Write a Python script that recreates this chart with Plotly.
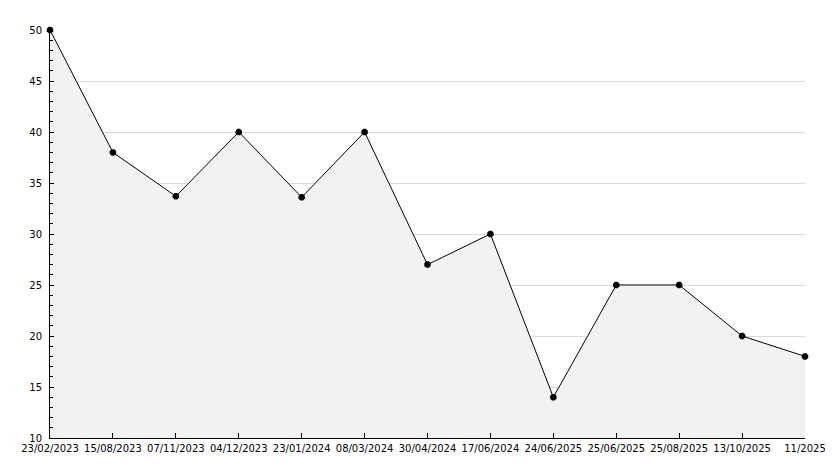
import plotly.graph_objects as go

dates = ["23/02/2023", "15/08/2023", "07/11/2023", "04/12/2023", "23/01/2024",
         "08/03/2024", "30/04/2024", "17/06/2024", "24/06/2025", "25/06/2025",
         "25/08/2025", "13/10/2025", "11/2025"]
values = [50, 38, 33.7, 40, 33.6, 40, 27, 30, 14, 25, 25, 20, 18]
y_ticks = [10, 15, 20, 25, 30, 35, 40, 45, 50]

idx = list(range(len(dates)))

fig = go.Figure()
fig.add_trace(go.Scatter(
    x=idx, y=values, mode="lines+markers",
    fill="tozeroy", fillcolor="#f2f2f2",
    line=dict(color="black", width=1),
    marker=dict(symbol="octagon", size=7, color="black"),
    cliponaxis=False, hoverinfo="skip"))

fig.update_layout(
    width=834, height=468,
    margin=dict(l=50, r=29, t=30, b=30, autoexpand=False),
    paper_bgcolor="white", plot_bgcolor="white",
    showlegend=False,
    font=dict(family="DejaVu Sans", size=10, color="black"),
    xaxis=dict(range=[0, len(dates) - 1], tickvals=idx, ticktext=dates,
               showgrid=False, showline=True, linecolor="black", linewidth=1,
               ticks="inside", ticklen=5, tickcolor="black", zeroline=False,
               tickangle=0, automargin=False, ticklabelstandoff=1),
    yaxis=dict(range=[10, 50], tickvals=y_ticks, showgrid=True,
               gridcolor="#d9d9d9", gridwidth=1, automargin=False,
               showline=True, linecolor="black", linewidth=1,
               ticks="inside", ticklen=4, tickcolor="black", zeroline=False,
               ticklabelstandoff=5,
               minor=dict(dtick=1, ticks="inside", ticklen=3, tickcolor="black",
                          showgrid=False)),
)

fig.write_html("out.html", config={"displayModeBar": False},
               post_script="document.body.style.margin='0';document.body.style.overflow='hidden';")
